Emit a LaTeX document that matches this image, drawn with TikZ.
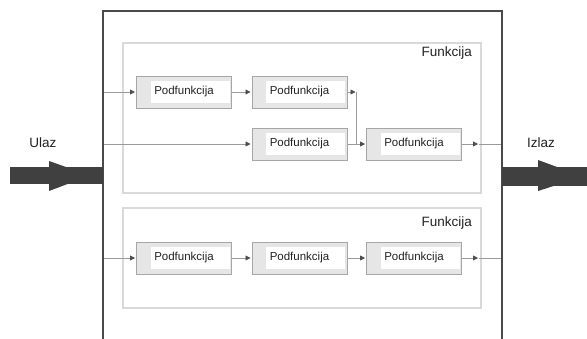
\documentclass[tikz,border=0pt]{standalone}
\usepackage{fontspec}
\setmainfont{Liberation Sans}
\usetikzlibrary{arrows.meta}
\definecolor{outer}{HTML}{4A4A4A}
\definecolor{inner}{HTML}{D9D9D9}
\definecolor{pborder}{HTML}{A6A6A6}
\definecolor{pfill}{HTML}{E6E6E6}
\definecolor{wire}{HTML}{9A9A9A}
\definecolor{tip}{HTML}{4D4D4D}
\definecolor{bigarrow}{HTML}{404040}
\definecolor{txt}{HTML}{222222}
\tikzset{
  pbox/.style={draw=pborder, line width=1pt, fill=pfill, minimum width=95pt, minimum height=32pt,
    inner sep=0pt, text=txt, font=\fontsize{11.5}{13}\selectfont,
    path picture={\fill[white] ([xshift=14pt,yshift=-5pt]path picture bounding box.north west) rectangle ([xshift=-2pt,yshift=5pt]path picture bounding box.south east);}},
  fbox/.style={draw=inner, line width=1.5pt},
  wirearrow/.style={draw=wire, line width=0.8pt, -{Triangle[length=5pt,width=5pt,color=tip]}, shorten >=1pt},
  wireline/.style={draw=wire, line width=0.8pt},
  lbl/.style={text=txt, font=\fontsize{13.5}{15}\selectfont, inner sep=0pt},
}
\begin{document}
\begin{tikzpicture}[x=1pt,y=-1pt]
\useasboundingbox (0,0) rectangle (587,338);
\fill[white] (0,0) rectangle (587,338);
% function boxes
\draw[fbox] (123,43) rectangle (481,193);
\draw[fbox] (123,208) rectangle (481,308);
\node[lbl, anchor=east] (f1) at (472,53) {Funkcija};
\node[lbl, anchor=east] (f2) at (472,223) {Funkcija};
% sub boxes
\node[pbox] (a1) at (184,92) {Podfunkcija};
\node[pbox] (a2) at (299.5,92) {Podfunkcija};
\node[pbox] (b2) at (299.5,144) {Podfunkcija};
\node[pbox] (b3) at (414,144) {Podfunkcija};
\node[pbox] (c1) at (184,258) {Podfunkcija};
\node[pbox] (c2) at (299.5,258) {Podfunkcija};
\node[pbox] (c3) at (414,258) {Podfunkcija};
% coordinates
\coordinate (inA) at (103,92);
\coordinate (inB) at (103,144);
\coordinate (inC) at (103,258);
\coordinate (j1) at (356.5,92);
\coordinate (j2) at (356.5,144);
\coordinate (oB) at (479,144);
\coordinate (oBe) at (502,144);
\coordinate (oC) at (479,258);
\coordinate (oCe) at (502,258);
% connectors
\draw[wirearrow] (inA) -- (a1);
\draw[wirearrow] (a1) -- (a2);
\draw[wirearrow] (inB) -- (b2);
\draw[wirearrow] (a2.east) -- (j1);
\draw[wireline] (j1) -- (j2);
\draw[wirearrow] (b2) -- (b3);
\draw[wirearrow] (b3) -- (oB);
\draw[wireline] (oB) -- (oBe);
\draw[wirearrow] (inC) -- (c1);
\draw[wirearrow] (c1) -- (c2);
\draw[wirearrow] (c2) -- (c3);
\draw[wirearrow] (c3) -- (oC);
\draw[wireline] (oC) -- (oCe);
% outer box (open at bottom)
\draw[outer, line width=2.5pt] (103,345) -- (103,11) -- (502,11) -- (502,345);
% thick arrows
\fill[bigarrow] (10,167) rectangle (103,184);
\fill[bigarrow] (49,161) -- (90,175.5) -- (49,191) -- cycle;
\fill[bigarrow] (502,167) rectangle (587,186);
\fill[bigarrow] (538,160) -- (583,176.5) -- (538,191) -- cycle;
% labels
\node[lbl] (ulaz) at (43,143) {Ulaz};
\node[lbl] (izlaz) at (541,143) {Izlaz};
\end{tikzpicture}
\end{document}
